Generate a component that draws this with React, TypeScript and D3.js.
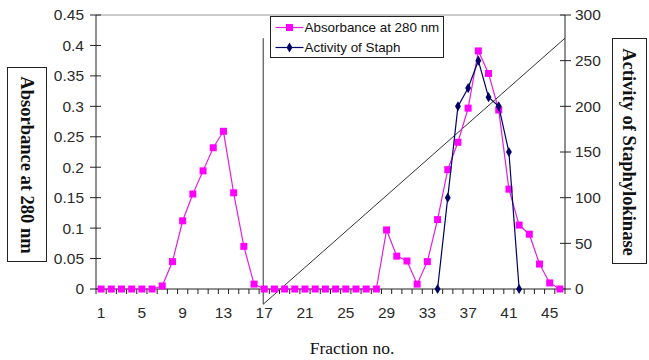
import * as d3 from 'd3';
import React from 'react';

// fraction numbers 1..46
const fractions = Array.from({ length: 46 }, (_, i) => i + 1);

const absorbance = [
  0, 0, 0, 0, 0, 0, 0.005, 0.045, 0.112, 0.156,
  0.194, 0.232, 0.259, 0.158, 0.07, 0.008, 0, 0, 0, 0,
  0, 0, 0, 0, 0, 0, 0, 0, 0.097, 0.054,
  0.046, 0.008, 0.045, 0.114, 0.196, 0.241, 0.297, 0.391, 0.354, 0.294,
  0.164, 0.105, 0.09, 0.041, 0.01, 0,
];

// activity only measured for fractions 34..42
const activityFractions = [34, 35, 36, 37, 38, 39, 40, 41, 42];
const activity = [0, 100, 200, 220, 250, 210, 200, 150, 0];

const leftTicks = [0, 0.05, 0.1, 0.15, 0.2, 0.25, 0.3, 0.35, 0.4, 0.45];
const rightTicks = [0, 50, 100, 150, 200, 250, 300];
const xLabels = [1, 5, 9, 13, 17, 21, 25, 29, 33, 37, 41, 45];

// hand drawn gradient lines (fraction, absorbance)
const gradientStart = [16.9, 0.412];
const gradientCorner = [16.9, -0.025];
const gradientEnd = [46.5, 0.412];

const W = 649;
const H = 360;
const left = 96;
const right = 565;
const top = 15;
const bottom = 289;

export default function App() {
  const x = d3.scaleBand<number>().domain(fractions).range([left, right]);
  const cx = (f: number) => (x(f) ?? 0) + x.bandwidth() / 2;
  const xs = d3.scaleLinear().domain([0.5, 46.5]).range([left, right]);
  const yL = d3.scaleLinear().domain([0, 0.45]).range([bottom, top]);
  const yR = d3.scaleLinear().domain([0, 300]).range([bottom, top]);

  const absLine = d3.line<number>().x((_, i) => cx(fractions[i])).y((d) => yL(d))(absorbance);
  const actLine = d3
    .line<number>()
    .x((_, i) => cx(activityFractions[i]))
    .y((d) => yR(d))(activity);

  const gradPath = d3.line<number[]>().x((d) => xs(d[0])).y((d) => yL(d[1]))([
    gradientStart,
    gradientCorner,
    gradientEnd,
  ]);

  const bounds = d3.range(0, 47).map((i) => left + i * x.step());
  const tickFont = { fontFamily: 'Liberation Sans, Arial, sans-serif', fontSize: 15.5, fill: '#2a2a2a' };
  const mag = '#ff00ff';
  const navy = '#000066';
  const diamond = d3.symbol(d3.symbolDiamond, 30)() ?? '';

  return (
    <svg width={W} height={H} style={{ position: 'absolute', left: 0, top: 0, background: '#fff' }}>
      {/* plot frame */}
      <line x1={left} x2={right} y1={top} y2={top} stroke="#999" />
      <line x1={left} x2={left} y1={top} y2={bottom} stroke="#222" />
      <line x1={right} x2={right} y1={top} y2={bottom} stroke="#222" />
      <line x1={left} x2={right} y1={bottom} y2={bottom} stroke="#222" />

      {/* left axis */}
      {leftTicks.map((t) => (
        <g key={'l' + t}>
          <line x1={left - 6} x2={left + 5} y1={yL(t)} y2={yL(t)} stroke="#222" />
          <text x={left - 12} y={yL(t)} dy="0.35em" textAnchor="end" {...tickFont}>
            {t}
          </text>
        </g>
      ))}

      {/* right axis */}
      {rightTicks.map((t) => (
        <g key={'r' + t}>
          <line x1={right - 5} x2={right + 6} y1={yR(t)} y2={yR(t)} stroke="#222" />
          <text x={right + 10} y={yR(t)} dy="0.35em" textAnchor="start" {...tickFont}>
            {t}
          </text>
        </g>
      ))}

      {/* x axis */}
      {bounds.map((b, i) => (
        <line key={'x' + i} x1={b} x2={b} y1={bottom} y2={bottom + 5} stroke="#222" />
      ))}
      {xLabels.map((f) => (
        <text key={'xl' + f} x={cx(f)} y={bottom + 29} textAnchor="middle" {...tickFont}>
          {f}
        </text>
      ))}

      {/* gradient drawing */}
      <path d={gradPath ?? ''} fill="none" stroke="#333" strokeWidth={1} />

      {/* absorbance */}
      <path d={absLine ?? ''} fill="none" stroke="#e020e0" strokeWidth={1.2} />
      {absorbance.map((v, i) => (
        <rect key={'a' + i} x={cx(fractions[i]) - 3.5} y={yL(v) - 3.5} width={7} height={7} fill={mag} />
      ))}

      {/* activity */}
      <path d={actLine ?? ''} fill="none" stroke={navy} strokeWidth={1.2} />
      {activity.map((v, i) => (
        <path
          key={'s' + i}
          d={diamond}
          transform={`translate(${cx(activityFractions[i])},${yR(v)})`}
          fill={navy}
        />
      ))}

      {/* legend */}
      <g transform="translate(270.5,16.5)">
        <rect width={173} height={41} fill="#fff" stroke="#222" />
        <line x1={5} x2={33} y1={11} y2={11} stroke="#e020e0" strokeWidth={1.2} />
        <rect x={15.5} y={7.5} width={7} height={7} fill={mag} />
        <text x={34} y={11} dy="0.35em" fontFamily="Liberation Sans, Arial, sans-serif" fontSize={13.4} fill="#111">
          Absorbance at 280 nm
        </text>
        <line x1={5} x2={33} y1={31} y2={31} stroke={navy} strokeWidth={1.2} />
        <path d={diamond} transform="translate(19,31)" fill={navy} />
        <text x={34} y={31} dy="0.35em" fontFamily="Liberation Sans, Arial, sans-serif" fontSize={13.4} fill="#111">
          Activity of Staph
        </text>
      </g>

      {/* left title */}
      <rect x={7.5} y={67.5} width={39} height={194} fill="#fff" stroke="#222" />
      <text
        transform="translate(27,165) rotate(90)"
        textAnchor="middle"
        dy="0.35em"
        fontFamily="Liberation Serif, Times New Roman, serif"
        fontWeight="bold"
        fontSize={18.5}
        fill="#111"
      >
        Absorbance at 280 nm
      </text>

      {/* right title */}
      <rect x={612.5} y={38.5} width={34} height={225} fill="#fff" stroke="#222" />
      <text
        transform="translate(629.5,152) rotate(90)"
        textAnchor="middle"
        dy="0.35em"
        fontFamily="Liberation Serif, Times New Roman, serif"
        fontWeight="bold"
        fontSize={18.5}
        fill="#111"
      >
        Activity of Staphylokinase
      </text>

      {/* x title */}
      <text
        x={352}
        y={354}
        textAnchor="middle"
        fontFamily="Liberation Serif, Times New Roman, serif"
        fontSize={17.5}
        fill="#111"
      >
        Fraction no.
      </text>
    </svg>
  );
}
